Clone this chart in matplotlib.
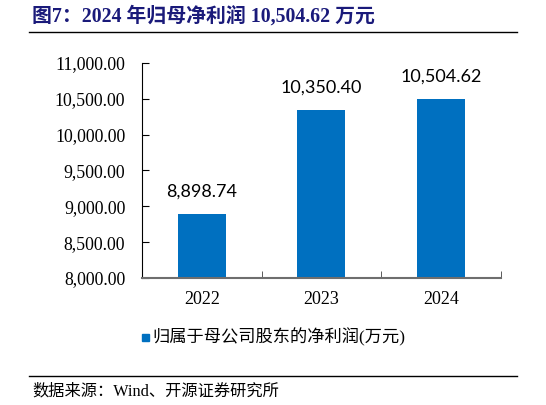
import matplotlib
matplotlib.use("Agg")
import matplotlib.pyplot as plt
from matplotlib.lines import Line2D
from matplotlib.patches import Rectangle

years = ["2022", "2023", "2024"]
profit = [8898.74, 10350.40, 10504.62]
yticks = [8000, 8500, 9000, 9500, 10000, 10500, 11000]
series_name = "归属于母公司股东的净利润(万元)"
title = "图7：2024 年归母净利润 10,504.62 万元"
source = "数据来源：Wind、开源证券研究所"

W, H = 546, 405
fig = plt.figure(figsize=(W / 100, H / 100), dpi=100)

serif = ["Liberation Serif", "Noto Sans CJK SC"]
cjk_serif = ["Liberation Serif", "Noto Sans CJK SC"]

ax = fig.add_axes([142 / W, 1 - 278 / H, (500.5 - 142) / W, (278 - 63) / H])
x = list(range(len(years)))
bars = ax.bar(x, profit, width=0.4, color="#0070C0", zorder=2)
ax.set_xlim(-0.5, len(years) - 0.5)
ax.set_ylim(8000, 11000)
ax.set_yticks(yticks)
ax.set_yticklabels([f"{v:,.2f}" for v in yticks], fontfamily=serif, fontsize=12.8)
ax.set_xticks(x)
ax.set_xticklabels(years, fontfamily=serif, fontsize=13)
ax.set_xticks([i + 0.5 for i in range(-1, len(years))], minor=True)
ax.tick_params(axis="x", which="major", length=0, pad=9)
ax.tick_params(axis="x", which="minor", direction="in", length=5, color="#404040")
ax.tick_params(axis="y", direction="in", length=5, pad=12)
for s in ["top", "right"]:
    ax.spines[s].set_visible(False)
ax.spines["left"].set_color("#000000")
ax.spines["bottom"].set_color("#6e6e6e")
ax.spines["bottom"].set_linewidth(1.5)

for xi, v in zip(x, profit):
    ax.annotate(f"{v:,.2f}", (xi, v), xytext=(0, 10), textcoords="offset points",
                ha="center", va="bottom", fontsize=13, fontfamily="Lato")

# title
fig.text(32 / W, 1 - 16 / H, title, fontsize=14.3, fontweight="bold", color="#1a1a7a",
         fontfamily=cjk_serif, va="center", ha="left")
fig.add_artist(Line2D([29 / W, 517 / W], [1 - 32 / H, 1 - 32 / H], color="#000000", lw=1))

# legend
fig.add_artist(Rectangle((142 / W, 1 - 341 / H), 7 / W, 7 / H, color="#0070C0"))
fig.text(152 / W, 1 - 337.5 / H, series_name, fontsize=12.4, fontfamily=cjk_serif,
         va="center", ha="left")

# source
fig.add_artist(Line2D([29 / W, 517 / W], [1 - 376 / H, 1 - 376 / H], color="#000000", lw=1))
fig.text(32 / W, 1 - 391 / H, source, fontsize=11.7, fontfamily=cjk_serif, va="center", ha="left")

fig.savefig("out.png", dpi=100)
